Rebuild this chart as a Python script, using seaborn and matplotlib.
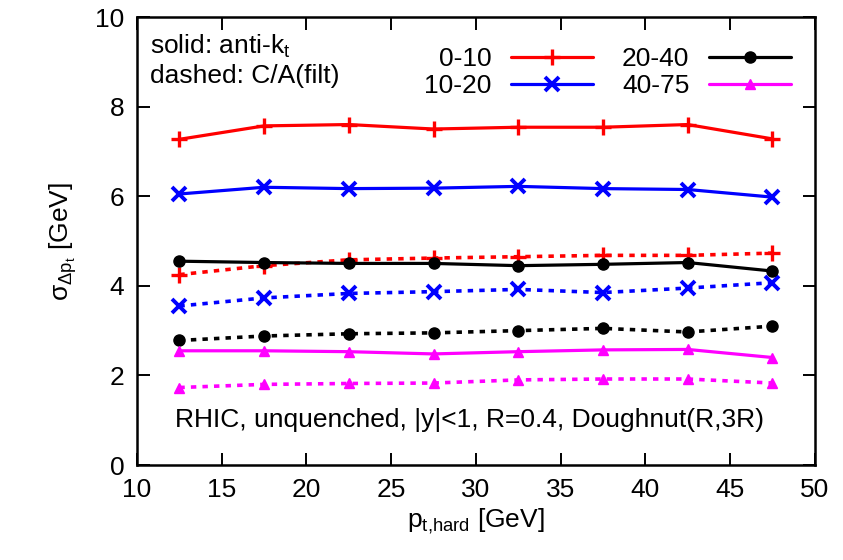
import matplotlib
matplotlib.use("Agg")
import matplotlib.pyplot as plt
import seaborn as sns
import pandas as pd

# p_t,hard bin centres
pt_hard = [12.5, 17.5, 22.5, 27.5, 32.5, 37.5, 42.5, 47.5]

centrality = ["0-10", "10-20", "20-40", "40-75"]

# anti-kt (solid)
akt_0_10 = [7.27, 7.57, 7.60, 7.50, 7.54, 7.54, 7.60, 7.28]
akt_10_20 = [6.05, 6.20, 6.17, 6.18, 6.22, 6.17, 6.15, 5.98]
akt_20_40 = [4.55, 4.52, 4.50, 4.50, 4.45, 4.48, 4.52, 4.33]
akt_40_75 = [2.55, 2.55, 2.53, 2.48, 2.53, 2.57, 2.58, 2.40]

# C/A(filt) (dashed)
ca_0_10 = [4.25, 4.45, 4.58, 4.62, 4.65, 4.68, 4.68, 4.73]
ca_10_20 = [3.55, 3.73, 3.83, 3.87, 3.92, 3.85, 3.95, 4.07]
ca_20_40 = [2.78, 2.88, 2.93, 2.95, 3.00, 3.05, 2.97, 3.10]
ca_40_75 = [1.73, 1.80, 1.82, 1.83, 1.90, 1.92, 1.92, 1.83]

sns.set_theme(style="ticks")
plt.rcParams["font.family"] = ["Liberation Sans", "DejaVu Sans"]
plt.rcParams["mathtext.fontset"] = "custom"
plt.rcParams["mathtext.rm"] = "Liberation Sans"
plt.rcParams["mathtext.it"] = "Liberation Sans"
plt.rcParams["mathtext.bf"] = "Liberation Sans:bold"
plt.rcParams["text.color"] = "black"
plt.rcParams["axes.labelcolor"] = "black"
plt.rcParams["xtick.color"] = "black"
plt.rcParams["ytick.color"] = "black"

FS = 19

colors = {"0-10": "#ff0000", "10-20": "#0000ff", "20-40": "#000000", "40-75": "#ff00ff"}
markers = {"0-10": "+", "10-20": "x", "20-40": "o", "40-75": "^"}
msize = {"0-10": 12, "10-20": 10, "20-40": 8, "40-75": 7.5}
mew = {"0-10": 2.4, "10-20": 2.8, "20-40": 1.0, "40-75": 1.0}

rows = []
for name, solid, dashed in zip(centrality,
                               [akt_0_10, akt_10_20, akt_20_40, akt_40_75],
                               [ca_0_10, ca_10_20, ca_20_40, ca_40_75]):
    for x, y in zip(pt_hard, solid):
        rows.append((name, "anti-kt", x, y))
    for x, y in zip(pt_hard, dashed):
        rows.append((name, "C/A(filt)", x, y))
df = pd.DataFrame(rows, columns=["bin", "algo", "pt", "sigma"])

fig = plt.figure(figsize=(8.43, 5.6), dpi=100)
ax = fig.add_axes([0.1625, 0.1696, 0.804, 0.800])

handles = []
for name in centrality:
    for algo, ls, lw in [("C/A(filt)", (0, (1.5, 1.7)), 2.6), ("anti-kt", "-", 2.3)]:
        sub = df[(df["bin"] == name) & (df["algo"] == algo)]
        sns.lineplot(data=sub, x="pt", y="sigma", ax=ax, color=colors[name],
                     linewidth=lw, linestyle=ls, marker=markers[name],
                     markersize=msize[name], markeredgewidth=mew[name],
                     markeredgecolor=colors[name], estimator=None, sort=False,
                     legend=False)
        if algo == "anti-kt":
            handles.append(ax.lines[-1])

ax.set_xlim(10, 50)
ax.set_ylim(0, 10)
ax.set_xticks(range(10, 51, 5))
ax.set_yticks(range(0, 11, 2))
ax.tick_params(direction="in", top=True, right=True, length=9, width=1.4,
               labelsize=FS, pad=9)
for s in ax.spines.values():
    s.set_linewidth(1.8)
    s.set_color("black")

ax.set_xlabel(r"$\mathregular{p_{t{,}hard}}$ [GeV]", fontsize=FS, labelpad=4)
ax.set_ylabel(r"$\mathregular{\sigma_{\Delta p_t}}$ [GeV]", fontsize=FS, labelpad=12)

ax.text(0.019, 0.935, r"solid: anti-k$_\mathregular{t}$", transform=ax.transAxes,
        fontsize=FS, va="center", ha="left")
ax.text(0.019, 0.868, "dashed: C/A(filt)", transform=ax.transAxes,
        fontsize=FS, va="center", ha="left")
ax.text(0.49, 0.10, "RHIC, unquenched, |y|<1, R=0.4, Doughnut(R,3R)",
        transform=ax.transAxes, fontsize=FS, ha="center", va="center")

leg = ax.legend(handles, centrality, ncol=2, loc="upper right",
                bbox_to_anchor=(1.0, 0.985), frameon=False, markerfirst=False,
                fontsize=FS, handlelength=3.1, columnspacing=1.1,
                labelspacing=0.1, handletextpad=0.75)
for t in leg.get_texts():
    t.set_ha("right")

fig.savefig("out.png", dpi=100)
